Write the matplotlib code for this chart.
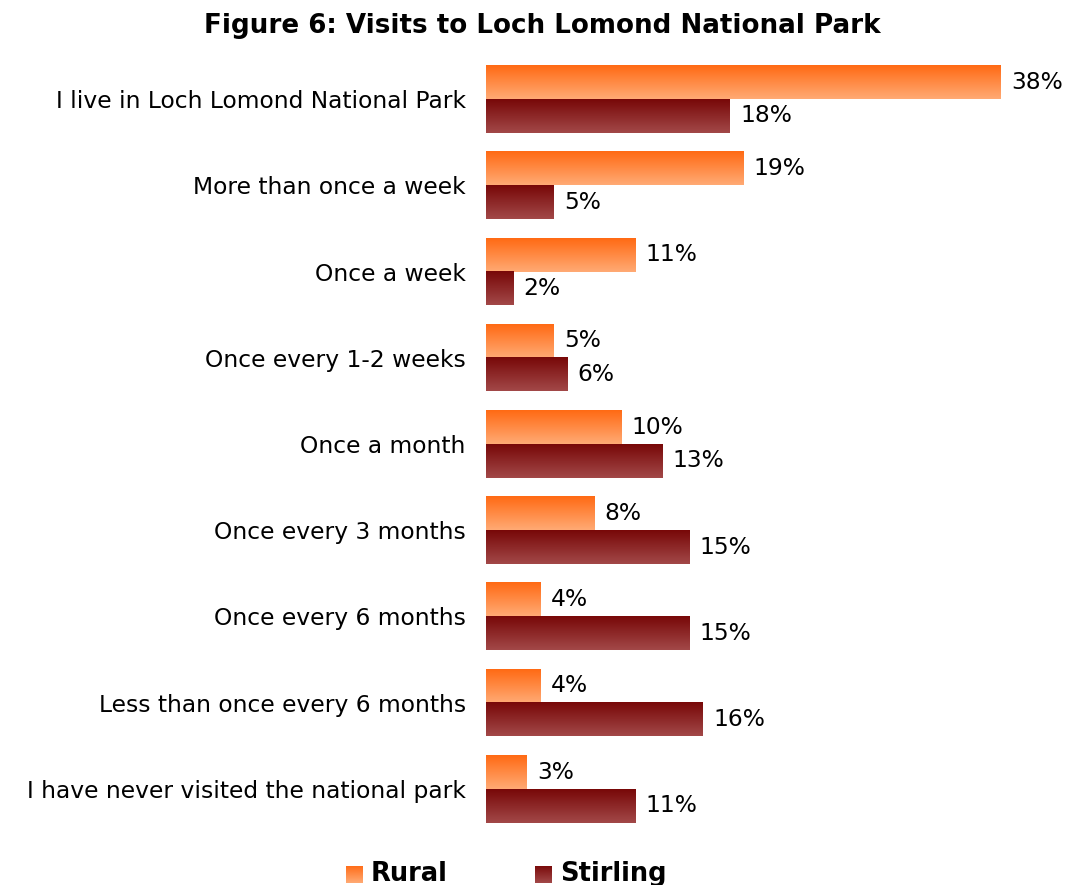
import numpy as np
import matplotlib
matplotlib.use("Agg")
import matplotlib.pyplot as plt
from matplotlib.colors import LinearSegmentedColormap

categories = [
    "I live in Loch Lomond National Park",
    "More than once a week",
    "Once a week",
    "Once every 1-2 weeks",
    "Once a month",
    "Once every 3 months",
    "Once every 6 months",
    "Less than once every 6 months",
    "I have never visited the national park",
]
rural = [38, 19, 11, 5, 10, 8, 4, 4, 3]
stirling = [18, 5, 2, 6, 13, 15, 15, 16, 11]
series_names = ["Rural", "Stirling"]

rural_cmap = LinearSegmentedColormap.from_list("rural", ["#FF6A14", "#FFAA74"])
stirling_cmap = LinearSegmentedColormap.from_list("stirling", ["#780808", "#A24848"])

W, H, DPI = 1070, 885, 100
fig = plt.figure(figsize=(W / DPI, H / DPI), dpi=DPI)
ax = fig.add_axes([486 / W, 1 - 832 / H, 542 / W, (832 - 56) / H])

n = len(categories)
y = np.arange(n)
bh = 0.39
grad = np.linspace(0, 1, 64).reshape(-1, 1)
FS = 16.8

def gradient_bars(values, offset, cmap):
    bars = ax.barh(y + offset, values, height=bh, color="none", edgecolor="none")
    for b in bars:
        x0, y0 = b.get_x(), b.get_y()
        w, h = b.get_width(), b.get_height()
        ax.imshow(grad, cmap=cmap, aspect="auto", interpolation="bilinear",
                  extent=(x0, x0 + w, y0 + h, y0), zorder=2)
    for v, yy in zip(values, y + offset):
        ax.text(v + 0.75, yy, f"{v}%", va="center", ha="left", fontsize=FS,
                color="black")
    return bars

gradient_bars(rural, -bh / 2, rural_cmap)
gradient_bars(stirling, bh / 2, stirling_cmap)

ax.set_xlim(0, 40)
ax.set_ylim(n - 0.5, -0.5)
ax.set_yticks(y)
ax.set_yticklabels(categories, fontsize=FS)
ax.tick_params(axis="y", length=0, pad=14.5)
ax.set_xticks([])
for s in ax.spines.values():
    s.set_visible(False)

fig.text(542 / W, 1 - 26 / H, "Figure 6: Visits to Loch Lomond National Park",
         ha="center", va="center", fontsize=18.8, fontweight="bold")

# legend with gradient swatches
for (name, cmap, sx, tx) in [(series_names[0], rural_cmap, 346, 371),
                             (series_names[1], stirling_cmap, 535, 560)]:
    sw = fig.add_axes([sx / W, 1 - 883 / H, 17 / W, 17 / H])
    sw.imshow(grad, cmap=cmap, aspect="auto", interpolation="bilinear")
    sw.axis("off")
    fig.text(tx / W, 1 - 874 / H, name, ha="left", va="center",
             fontsize=18.5, fontweight="bold")

fig.savefig("out.png", dpi=DPI)
